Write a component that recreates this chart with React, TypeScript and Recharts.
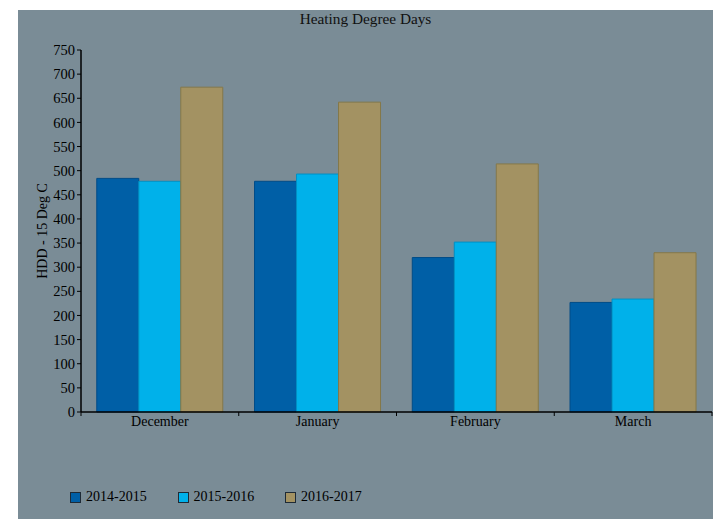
import { BarChart, Bar, XAxis, YAxis } from 'recharts';

// months on the x axis
const months = ['December', 'January', 'February', 'March'];

// heating degree days for each season
const season1415 = [484, 478, 320, 227];
const season1516 = [478, 493, 352, 234];
const season1617 = [673, 642, 514, 330];

const seasons = ['2014-2015', '2015-2016', '2016-2017'];
const yTicks = [0, 50, 100, 150, 200, 250, 300, 350, 400, 450, 500, 550, 600, 650, 700, 750];

const COLORS = ['#005fa6', '#00b1ea', '#a39262'];
const STROKES = ['#004c88', '#0090c4', '#857849'];

const data = months.map((m, i) => ({
  month: m,
  [seasons[0]]: season1415[i],
  [seasons[1]]: season1516[i],
  [seasons[2]]: season1617[i],
}));

const FONT = '"Liberation Serif", "Times New Roman", serif';
const W = 695;
const H = 509;
const PLOT_LEFT = 63;
const PLOT_RIGHT = 1;
const BAND = (W - PLOT_LEFT - PLOT_RIGHT) / months.length;

// category label in the middle, tick mark on the boundary of each band
function MonthTick(props: any) {
  const { x, y, payload, index } = props;
  const left = x - BAND / 2;
  return (
    <g>
      <line x1={left} y1={y - 8} x2={left} y2={y - 4} stroke="#000" />
      {index === months.length - 1 && (
        <line x1={x + BAND / 2} y1={y - 8} x2={x + BAND / 2} y2={y - 4} stroke="#000" />
      )}
      <text x={x} y={y + 6} textAnchor="middle" fontFamily={FONT} fontSize={14} fill="#000">
        {payload.value}
      </text>
    </g>
  );
}

function YLabel(props: any) {
  const { viewBox } = props;
  const cx = viewBox.x + 24;
  const cy = viewBox.y + viewBox.height / 2;
  return (
    <text
      x={cx}
      y={cy}
      transform={`rotate(-90, ${cx}, ${cy})`}
      textAnchor="middle"
      dominantBaseline="central"
      fontFamily={FONT}
      fontSize={14}
      fill="#000"
    >
      HDD - 15 Deg C
    </text>
  );
}

export default function App() {
  return (
    <div
      style={{
        position: 'absolute',
        left: 18,
        top: 10,
        width: W,
        height: H,
        background: '#7a8c96',
        fontFamily: FONT,
      }}
    >
      <div
        style={{
          position: 'absolute',
          top: 0,
          width: '100%',
          textAlign: 'center',
          fontSize: 15.3,
          lineHeight: '17px',
          color: '#111',
        }}
      >
        Heating Degree Days
      </div>
      <BarChart
        width={W}
        height={H}
        data={data}
        margin={{ top: 40, right: PLOT_RIGHT, left: 0, bottom: 77 }}
        barGap={0}
        barCategoryGap="10%"
      >
        <XAxis
          dataKey="month"
          height={30}
          tickLine={false}
          axisLine={{ stroke: '#000', strokeWidth: 1.5 }}
          tick={<MonthTick />}
          interval={0}
        />
        <XAxis
          xAxisId="top"
          dataKey="month"
          orientation="top"
          height={0}
          tick={false}
          tickLine={false}
          axisLine={{ stroke: '#1e2a36', strokeWidth: 1.5 }}
        />
        <YAxis
          yAxisId="left"
          width={PLOT_LEFT}
          domain={[0, 750]}
          ticks={yTicks}
          interval={0}
          tickSize={4}
          tickMargin={2}
          tickLine={{ stroke: '#000' }}
          axisLine={{ stroke: '#000', strokeWidth: 1.5 }}
          tick={{ fill: '#000', fontSize: 14.5, fontFamily: FONT }}
          label={<YLabel />}
        />
        <YAxis
          yAxisId="right"
          orientation="right"
          width={0}
          domain={[0, 750]}
          tick={false}
          tickLine={false}
          axisLine={{ stroke: '#3a4550', strokeWidth: 1.5 }}
        />
        {seasons.map((s, i) => (
          <Bar
            key={s}
            yAxisId="left"
            dataKey={s}
            fill={COLORS[i]}
            stroke={STROKES[i]}
            strokeWidth={1}
            isAnimationActive={false}
          />
        ))}
      </BarChart>
      <div
        style={{
          position: 'absolute',
          left: 52,
          top: 479,
          display: 'flex',
          fontSize: 14,
          color: '#000',
        }}
      >
        {seasons.map((s, i) => (
          <div key={s} style={{ display: 'flex', alignItems: 'center', width: 107.5 }}>
            <span
              style={{
                display: 'inline-block',
                width: 9,
                height: 9,
                background: COLORS[i],
                border: '1px solid #1e2a36',
                marginRight: 5,
              }}
            />
            <span>{s}</span>
          </div>
        ))}
      </div>
    </div>
  );
}
